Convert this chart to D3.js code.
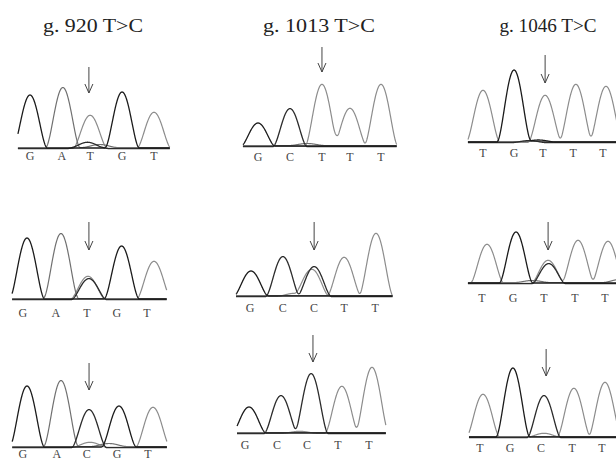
<!DOCTYPE html>
<html>
<head>
<meta charset="utf-8">
<script src="https://cdn.jsdelivr.net/npm/d3@7"></script>
<style>
  body { margin: 0; background: #fff; }
</style>
</head>
<body>
<script>
// sequencing traces for three T>C sites, three samples each (rows)

// column titles
const titles = ["g. 920 T>C", "g. 1013 T>C", "g. 1046 T>C"];

// base calls printed under each trace, panels in reading order
const baseCalls = [
  ["G", "A", "T", "G", "T"], ["G", "C", "T", "T", "T"], ["T", "G", "T", "T", "T"],
  ["G", "A", "T", "G", "T"], ["G", "C", "C", "T", "T"], ["T", "G", "T", "T", "T"],
  ["G", "A", "C", "G", "T"], ["G", "C", "C", "T", "T"], ["T", "G", "C", "T", "T"]
];

// where each call letter sits (base index)
const callPos = [
  [0, 1.03, 1.94, 2.97, 4], [0, 1.04, 2.08, 2.99, 4], [0, 1.01, 1.95, 2.93, 3.9],
  [-0.13, 0.91, 1.89, 2.83, 3.78], [-0.03, 1.02, 2.02, 2.98, 3.97], [-0.17, 0.86, 1.88, 2.91, 3.9],
  [-0.13, 0.95, 1.9, 2.86, 3.84], [-0.13, 0.91, 1.89, 2.89, 3.9], [-0.1, 0.89, 1.9, 2.92, 3.9]
];

// peaks: [dye, base index, signal]
const peaks1 = [["G", 0, 53], ["A", 1.06, 60], ["T", 1.94, 33], ["G", 2.97, 56], ["T", 4, 36],
  ["C", 1.75, 4], ["A", 2.25, 3], ["C", 2.0, 3]];
const peaks2 = [["G", 0, 23], ["C", 1.04, 38], ["T", 2.08, 62], ["T", 2.99, 38], ["T", 4, 62],
  ["A", 1.6, 2]];
const peaks3 = [["T", 0, 52], ["G", 1.01, 72], ["T", 2.02, 47], ["T", 3.02, 58], ["T", 4, 56],
  ["C", 1.5, 2], ["G", 1.8, 2]];
const peaks4 = [["G", 0, 61], ["A", 1.07, 65], ["T", 1.92, 23], ["C", 1.95, 21], ["G", 2.98, 53], ["T", 4, 38]];
const peaks5 = [["G", 0, 25], ["C", 1.02, 40], ["C", 2.02, 30], ["T", 1.95, 27], ["T", 2.98, 39], ["T", 4, 63],
  ["T", 1.4, 3]];
const peaks6 = [["T", 0, 39], ["G", 0.96, 51], ["T", 2.02, 23], ["C", 2.04, 20], ["T", 3.01, 43], ["T", 4, 42],
  ["A", 1.5, 2], ["A", 4.4, 3]];
const peaks7 = [["G", 0, 61], ["A", 1.08, 66], ["C", 1.97, 38], ["T", 2.0, 5], ["G", 2.92, 41], ["T", 4, 40],
  ["A", 2.6, 3]];
const peaks8 = [["G", 0, 26], ["C", 1.04, 38], ["C", 2.02, 60], ["T", 3.02, 47], ["T", 4, 66],
  ["T", 1.65, 2]];
const peaks9 = [["T", 0, 43], ["G", 0.98, 69], ["C", 2, 42], ["T", 2, 4], ["T", 2.98, 49], ["T", 4, 55]];
const allPeaks = [peaks1, peaks2, peaks3, peaks4, peaks5, peaks6, peaks7, peaks8, peaks9];

// variant site marked by the arrow (base index)
const arrowAt = [1.9, 2.08, 2.02, 1.95, 2.02, 2.02, 1.97, 2.08, 2.07];

const dyes = ["T", "A", "C", "G"];
const dyeColor = { G: "#1b1b1b", C: "#2c2c2c", A: "#707070", T: "#8c8c8c" };
const dyeShift = { G: 0, C: 0.6, A: -0.5, T: 0.3 };

// panel placement on the page
const panels = [
  { x0: 30, x4: 154, base: 148, lo: -0.39, hi: 4.52, labelY: 160, arrow: [67, 93] },
  { x0: 258, x4: 381, base: 146, lo: -0.49, hi: 4.52, labelY: 161, arrow: [47, 72] },
  { x0: 483, x4: 606, base: 142, lo: -0.49, hi: 4.7, labelY: 157, arrow: [55, 83] },
  { x0: 27, x4: 154, base: 299, lo: -0.47, hi: 4.41, labelY: 317, arrow: [222, 250] },
  { x0: 251, x4: 376, base: 296, lo: -0.48, hi: 4.54, labelY: 312, arrow: [222, 250] },
  { x0: 487, x4: 608, base: 283, lo: -0.63, hi: 4.5, labelY: 302, arrow: [222, 250] },
  { x0: 27, x4: 153, base: 447, lo: -0.47, hi: 4.45, labelY: 458, arrow: [363, 390] },
  { x0: 249, x4: 372, base: 433, lo: -0.39, hi: 4.46, labelY: 449, arrow: [335, 362] },
  { x0: 483, x4: 605, base: 437, lo: -0.46, hi: 4.6, labelY: 452, arrow: [349, 376] }
];
const titleX = [93, 319, 548];
const titleLen = [100, 112, 97];

const svg = d3.select("body").append("svg")
  .attr("width", 616)
  .attr("height", 460)
  .style("background-color", "#fff");

// titles
svg.selectAll("text.title")
  .data(titles)
  .join("text")
  .attr("class", "title")
  .attr("x", (d, i) => titleX[i])
  .attr("y", 32)
  .attr("text-anchor", "middle")
  .attr("textLength", (d, i) => titleLen[i])
  .attr("lengthAdjust", "spacingAndGlyphs")
  .style("font-family", "'Liberation Serif', 'Times New Roman', serif")
  .style("font-size", "18px")
  .style("font-weight", "normal")
  .style("fill", "#222")
  .text(d => d);

// peak half-width in base units, biweight shaped
const halfW = 0.56;
function bump(t, c, h) {
  const u = (t - c) / halfW;
  return Math.abs(u) >= 1 ? 0 : h * (1 - u * u) * (1 - u * u);
}

panels.forEach(function (p, i) {
  const x = d3.scaleLinear().domain([0, 4]).range([p.x0, p.x4]);
  const y = d3.scaleLinear().domain([0, 80]).range([p.base, p.base - 80]);
  const g = svg.append("g");
  const steps = d3.range(p.lo, p.hi, 0.01);

  // one trace per dye, gray ones underneath
  dyes.forEach(function (dye) {
    const mine = allPeaks[i].filter(d => d[0] === dye);
    const pts = steps.map(t => [t, d3.sum(mine, d => bump(t, d[1], d[2]))]);
    g.append("path")
      .datum(pts)
      .attr("d", d3.line()
        .x(d => x(d[0]))
        .y(d => y(d[1]) + dyeShift[dye]))
      .attr("fill", "none")
      .attr("stroke", dyeColor[dye])
      .attr("stroke-width", dye === "G" || dye === "C" ? 1.3 : 1.2)
      .attr("stroke-linejoin", "round");
  });

  // base calls
  g.selectAll("text")
    .data(baseCalls[i])
    .join("text")
    .attr("x", (d, j) => x(callPos[i][j]))
    .attr("y", p.labelY)
    .attr("text-anchor", "middle")
    .style("font-family", "'Liberation Serif', serif")
    .style("font-size", "12px")
    .style("fill", "#444")
    .text(d => d);

  // arrow over the variant
  const ax = x(arrowAt[i]);
  const top = p.arrow[0], tip = p.arrow[1];
  g.append("path")
    .attr("d", `M${ax},${top}L${ax},${tip}M${ax - 4},${tip - 9}L${ax},${tip}L${ax + 4},${tip - 9}`)
    .attr("fill", "none")
    .attr("stroke", "#444")
    .attr("stroke-width", 1);
});
</script>
</body>
</html>
